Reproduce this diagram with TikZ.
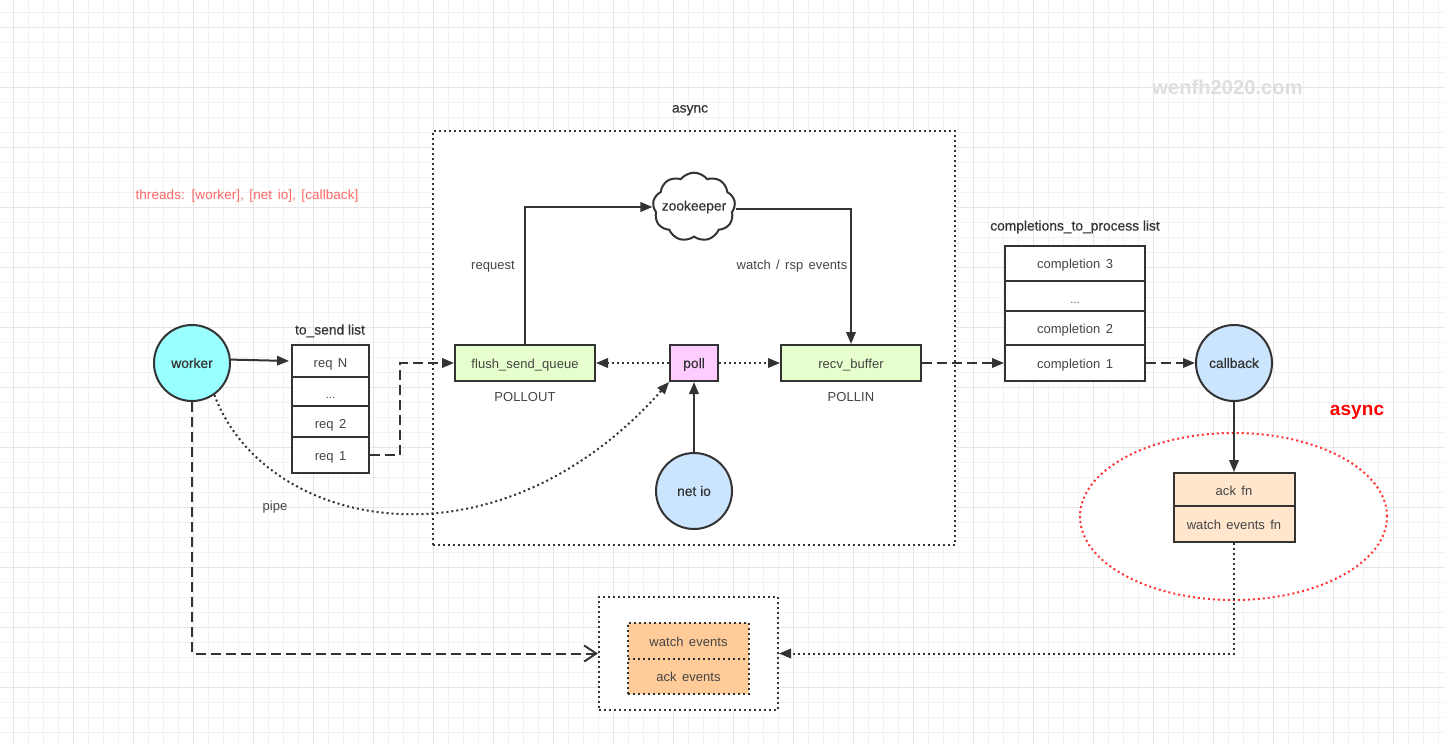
\documentclass[tikz,border=0pt]{standalone}
\usepackage{fontspec}
\setmainfont[WordSpace=1.45,LetterSpace=0.5]{Liberation Sans}
\newfontfamily\medfont[FakeBold=0.5]{Liberation Sans}
\usetikzlibrary{arrows.meta,shapes.geometric,shapes.symbols}
\definecolor{ink}{HTML}{333333}
\definecolor{inktext}{HTML}{444444}
\definecolor{workerfill}{HTML}{99FFFF}
\definecolor{threadfill}{HTML}{CCE5FF}
\definecolor{queuefill}{HTML}{E6FFCC}
\definecolor{pollfill}{HTML}{FFCCFF}
\definecolor{fnfill}{HTML}{FFE6CC}
\definecolor{eventfill}{HTML}{FFCC99}
\definecolor{ringred}{HTML}{FF3333}
\definecolor{threadred}{HTML}{FF6666}
\def\gapdots{\raisebox{-2pt}{\fontsize{11}{13}\selectfont ...}}
\tikzset{
	cell/.style={draw=ink, line width=2pt, fill=#1, minimum height=34pt, inner sep=0pt, text=inktext, text height=12.5pt, text depth=2.5pt, font=\fontsize{13}{15}\selectfont},
	cell/.default=white,
	thread/.style={circle, draw=ink, line width=2pt, fill=#1, minimum size=76pt, inner sep=0pt, text=ink, font=\fontsize{13.8}{15}\medfont},
	tag/.style={text=inktext, inner sep=0pt, text height=12.5pt, text depth=2.5pt, font=\fontsize{13}{15}\selectfont},
	head/.style={text=ink, inner sep=0pt, text height=12.5pt, text depth=2.5pt, font=\fontsize{13.8}{15}\medfont},
	solidline/.style={draw=ink, line width=2pt, -{Triangle[length=12pt,width=9.5pt]}},
	dashline/.style={solidline, dash pattern=on 10pt off 5pt},
	dotline/.style={solidline, dash pattern=on 2pt off 3pt},
	dotbox/.style={draw=ink, line width=2pt, dash pattern=on 2pt off 3pt, fill=white},
}
\begin{document}
\begin{tikzpicture}[x=1pt, y=-1pt]
	\useasboundingbox (0,0) rectangle (1445,745);
	\fill[white] (0,0) rectangle (1445,745);

	% paper grid
	\foreach \x in {13,28,...,1445} \draw[black!5, line width=1pt] (\x,0) -- (\x,745);
	\foreach \y in {12,27,...,745} \draw[black!5, line width=1pt] (0,\y) -- (1445,\y);
	\foreach \x in {13,73,...,1445} \draw[black!10, line width=1pt] (\x,0) -- (\x,745);
	\foreach \y in {27,87,...,745} \draw[black!10, line width=1pt] (0,\y) -- (1445,\y);

	% frames first
	\node[dotbox, minimum width=522pt, minimum height=414pt] (asyncbox) at (694,338) {};
	\node[dotbox, minimum width=179pt, minimum height=113pt] (eventbox) at (688.5,653.5) {};
	\node[ellipse, draw=ringred, line width=2pt, dash pattern=on 2pt off 3pt, fill=white, minimum width=307pt, minimum height=167pt, inner sep=0pt] (asyncring) at (1233.5,516.5) {};

	% threads
	\node[thread=workerfill] (worker) at (192,363) {worker};
	\node[thread=threadfill] (netio) at (694,491) {net io};
	\node[thread=threadfill] (callback) at (1234,363) {callback};

	% to_send list
	\node[head] (sendhead) at (330,329.5) {to\_send list};
	\foreach \name/\txt/\yy/\hh/\tt in {reqN/req N/361/32/16, reqdots/\gapdots/391.5/29/12.5, reqtwo/req 2/421.5/31/16, reqone/req 1/455/36/12.5}
		\node[cell, minimum width=77pt, minimum height=\hh pt, text height=\tt pt] (\name) at (330.5,\yy) {\txt};

	% completions list
	\node[head] (comphead) at (1075,225.5) {completions\_to\_process list};
	\foreach \name/\txt/\yy/\hh in {compthree/completion 3/263.5/35, compdots/\gapdots/296/30, comptwo/completion 2/328/34, compone/completion 1/363/36}
		\node[cell, minimum width=140pt, minimum height=\hh pt] (\name) at (1075,\yy) {\txt};

	% async internals
	\node[head] (asynchead) at (690,107.5) {async};
	\node[cell=queuefill, minimum width=140pt, minimum height=36pt] (flush) at (525,363) {flush\_send\_queue};
	\node[cell=queuefill, minimum width=140pt, minimum height=36pt] (recv) at (851,363) {recv\_buffer};
	\node[cell=pollfill, minimum width=48pt, minimum height=36pt, text=ink, font=\fontsize{13.8}{15}\medfont] (poll) at (694,363) {poll};
	\node[cloud, cloud puffs=9, cloud puff arc=105, aspect=1.3, draw=ink, line width=2pt, fill=white, minimum width=66pt, minimum height=50pt, inner sep=-5pt, text=ink, font=\fontsize{13.8}{15}\medfont] (zk) at (694,207) {zookeeper};
	\node[tag] (pollout) at (525,396) {POLLOUT};
	\node[tag] (pollin) at (851,396) {POLLIN};
	\node[tag] (reqtag) at (493,264.5) {request};
	\node[tag] (rsptag) at (792,264.5) {watch / rsp events};

	% fn boxes
	\node[cell=fnfill, minimum width=121pt, minimum height=33pt, text height=15pt] (ackfn) at (1234,489.5) {ack fn};
	\node[cell=fnfill, minimum width=121pt, minimum height=36pt] (watchfn) at (1234,524) {watch events fn};

	% event boxes
	\node[cell=eventfill, dash pattern=on 2pt off 3pt, minimum width=121pt, minimum height=36pt] (watchev) at (688.5,641) {watch events};
	\node[cell=eventfill, dash pattern=on 2pt off 3pt, minimum width=121pt, minimum height=35pt] (ackev) at (688.5,676.5) {ack events};

	% free labels
	\node[tag, text=threadred, font=\fontsize{13.5}{15}\selectfont] (threads) at (247,194.5) {threads: [worker], [net io], [callback]};
	\node[tag] (pipetag) at (275,505) {pipe};
	\node[inner sep=0pt, text=red, font=\fontsize{19}{21}\selectfont\bfseries] (asynctag) at (1357,412) {async};
	\node[inner sep=0pt, text=black!13, font=\fontsize{20}{22}\selectfont\bfseries] (mark) at (1227.5,87) {wenfh2020.com};

	% connectors
	\coordinate (sendbend) at (400,363);
	\draw[solidline, shorten >=2pt] (worker.5) -- (reqN.west);
	\draw[dashline] (reqone.east) -| (sendbend) -- (flush.west);
	\draw[solidline] (flush.north) |- (zk.west);
	\draw[solidline] ([yshift=-2pt]zk.east) -| (recv.north);
	\draw[dotline] (poll.west) -- (flush.east);
	\draw[dotline] (poll.east) -- (recv.west);
	\draw[solidline] (netio.north) -- (poll.south);
	\draw[dotline] (worker.-55) .. controls (265,530) and (495,578) .. (poll.south west);
	\draw[dashline] (recv.east) -- (compone.west);
	\draw[dashline] (compone.east) -- (callback.west);
	\draw[solidline] (callback.south) -- (ackfn.north);
	\draw[dashline, -{Straight Barb[length=12pt,width=16pt]}] (worker.south) |- (eventbox.west);
	\draw[dotline] (watchfn.south) |- (eventbox.east);
\end{tikzpicture}
\end{document}
